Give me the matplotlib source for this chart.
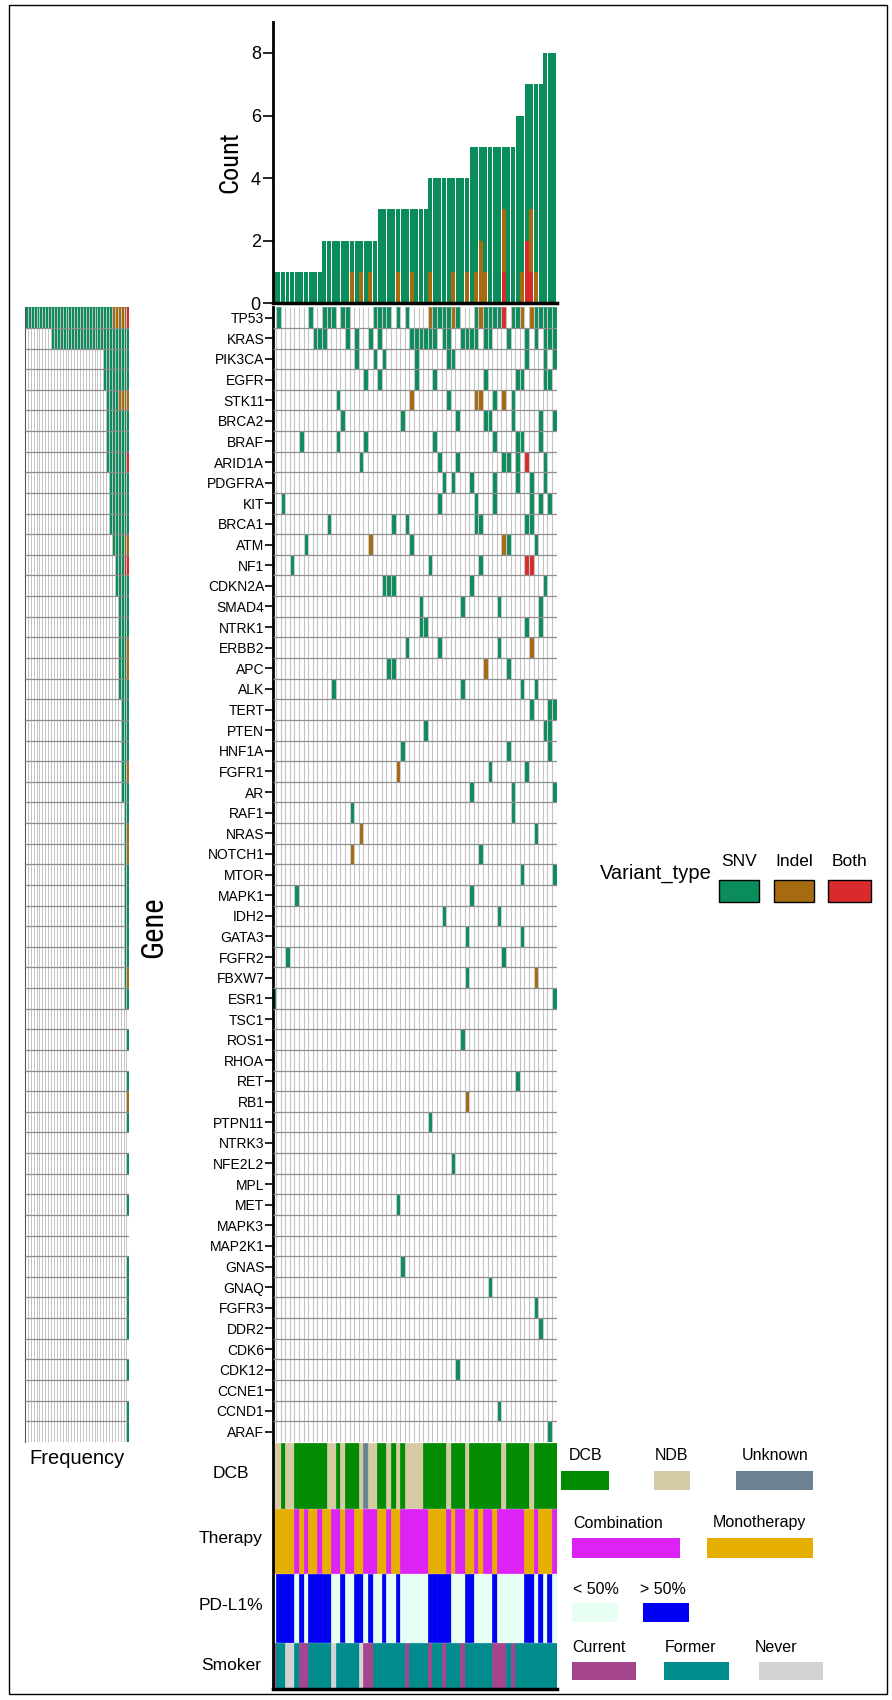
import numpy as np
import matplotlib.pyplot as plt
from matplotlib import font_manager
from matplotlib.patches import Rectangle

# Genes in plotting order (top to bottom)
genes = ["TP53", "KRAS", "PIK3CA", "EGFR", "STK11", "BRCA2", "BRAF", "ARID1A",
         "PDGFRA", "KIT", "BRCA1", "ATM", "NF1", "CDKN2A", "SMAD4", "NTRK1",
         "ERBB2", "APC", "ALK", "TERT", "PTEN", "HNF1A", "FGFR1", "AR", "RAF1",
         "NRAS", "NOTCH1", "MTOR", "MAPK1", "IDH2", "GATA3", "FGFR2", "FBXW7",
         "ESR1", "TSC1", "ROS1", "RHOA", "RET", "RB1", "PTPN11", "NTRK3",
         "NFE2L2", "MPL", "MET", "MAPK3", "MAP2K1", "GNAS", "GNAQ", "FGFR3",
         "DDR2", "CDK6", "CDK12", "CCNE1", "CCND1", "ARAF"]

# Sample indices (columns) carrying each variant type, one list per gene
snv = [
    [1, 8, 11, 12, 13, 15, 16, 22, 23, 24, 25, 27, 29, 35, 36, 37, 38, 40, 44,
     46, 47, 48, 49, 52, 53, 57, 58, 59, 60, 61],
    [9, 10, 11, 16, 18, 21, 23, 30, 31, 32, 33, 34, 35, 37, 38, 41, 42, 43, 44,
     46, 47, 51, 55, 57, 59, 60, 61],
    [18, 22, 24, 31, 38, 39, 55, 59, 61],
    [20, 23, 31, 35, 46, 53, 54, 59, 60],
    [14, 38, 48, 52],
    [15, 28, 40, 46, 47, 52, 58, 61],
    [6, 14, 20, 35, 48, 53, 54, 58],
    [19, 36, 40, 50, 51, 53, 59],
    [37, 39, 43, 48, 53, 56, 59],
    [2, 36, 44, 48, 56, 58, 60],
    [12, 26, 29, 44, 45, 55, 56],
    [7, 30, 51, 57],
    [4, 34, 45],
    [24, 25, 26, 43, 59],
    [32, 41, 49, 58],
    [32, 33, 55, 58],
    [29, 36, 49],
    [25, 26, 51],
    [13, 41, 54, 57],
    [56, 60, 61],
    [33, 59, 60],
    [28, 51, 60],
    [47, 55],
    [43, 52, 61],
    [17, 52],
    [57],
    [45],
    [54, 61],
    [5, 43],
    [37, 49],
    [42, 54],
    [3, 50],
    [42],
    [0, 61],
    [],
    [41],
    [],
    [53],
    [],
    [34],
    [],
    [39],
    [],
    [27],
    [],
    [],
    [28],
    [47],
    [57],
    [58],
    [],
    [40],
    [],
    [49],
    [60],
]
indel = [[34, 39, 45, 54, 56], [], [], [], [30, 44, 45, 50], [], [], [], [], [],
         [], [21, 50], [], [], [], [], [56], [46], [], [], [], [], [27], [], [],
         [19], [17], [], [], [], [], [], [57], [], [], [], [], [], [42], [], [],
         [], [], [], [], [], [], [], [], [], [], [], [], [], []]
both = [[50], [], [], [], [], [], [], [55], [], [], [], [], [55, 56]] + [[]] * 42

# Sample annotations, one character per sample
# DCB: D = DCB, N = NDB, U = Unknown
dcb = "NNDNNDDDDDDDNNDNDDDNUNNDDNDNDNNNNDDDDDNDDDNDDDDDDDNDDDDDNDDDDD"
# Therapy: C = Combination, M = Monotherapy
therapy = "MMMMMCMCMMCMMCCMCCMMCCCMMCMMCCCCCCMMMMCMCCMMCMCCMCCCCCCMMCMMMC"
# PD-L1: L = < 50%, H = > 50%
pdl1 = "LHHHHLHLHHHHHLLHLLHHLHLLHLLHLLLLLLHHHHHLLLHHLLLLHLLLLLLHHLHLHL"
# Smoker: C = Current, F = Former, N = Never
smoker = "CFFNNFCCFFFFFNFFFFFNCCFFFFFFFCFFFFCFFCFFFCFFFFFFCCCFCFFFFFFFFF"

var_colors = {"SNV": "#0b8c5b", "Indel": "#a66a10", "Both": "#d92b2b"}
dcb_colors = {"D": "#008b00", "N": "#d4cba4", "U": "#6b8292"}
therapy_colors = {"C": "#dd22f5", "M": "#e6ae00"}
pdl1_colors = {"L": "#e6fff2", "H": "#0000f5"}
smoker_colors = {"C": "#a4458e", "F": "#008c8c", "N": "#d3d3d3"}

n_samples = len(dcb)
n_genes = len(genes)

names = {f.name for f in font_manager.fontManager.ttflist}
narrow = next((f for f in ["Liberation Sans Narrow", "Roboto Condensed",
                           "Open Sans Condensed"] if f in names), "DejaVu Sans")
plt.rcParams["font.family"] = ["Liberation Sans", "DejaVu Sans"]

W, H = 892, 1700
fig = plt.figure(figsize=(W / 100, H / 100), dpi=100)


def axes_px(x0, y0, x1, y1):
    return fig.add_axes([x0 / W, 1 - y1 / H, (x1 - x0) / W, (y1 - y0) / H])


# per-sample counts for the top bar chart
snv_n = np.zeros(n_samples)
indel_n = np.zeros(n_samples)
both_n = np.zeros(n_samples)
for cols in snv:
    np.add.at(snv_n, cols, 1)
for cols in indel:
    np.add.at(indel_n, cols, 1)
for cols in both:
    np.add.at(both_n, cols, 1)

X0 = 0.41   # first sample column is partly cut by the axis
LEFT, RIGHT = 273.3, 556.7
x = np.arange(n_samples) + 0.5

# ---- top: mutation count per sample
ax_top = axes_px(LEFT, 21.7, RIGHT, 303.3)
ax_top.bar(x, both_n, width=0.86, color=var_colors["Both"])
ax_top.bar(x, indel_n, bottom=both_n, width=0.86, color=var_colors["Indel"])
ax_top.bar(x, snv_n, bottom=both_n + indel_n, width=0.86, color=var_colors["SNV"])
ax_top.set_xlim(X0, n_samples)
ax_top.set_ylim(0, 9)
ax_top.set_xticks([])
ax_top.set_yticks([0, 2, 4, 6, 8])
ax_top.tick_params(axis="y", length=7, width=1.2, labelsize=13, pad=2)
for s in ["top", "right"]:
    ax_top.spines[s].set_visible(False)
ax_top.spines["left"].set_linewidth(2)
ax_top.spines["bottom"].set_linewidth(2.5)
ax_top.set_ylabel("Count", fontsize=19, family=narrow, fontstretch="condensed",
                  labelpad=6)

# ---- main oncoprint
ax = axes_px(LEFT, 307.3, RIGHT, 1441.9)
for i in range(n_genes):
    for cols, key in ((snv[i], "SNV"), (indel[i], "Indel"), (both[i], "Both")):
        for c in cols:
            ax.add_patch(Rectangle((c, i), 1, 1, facecolor=var_colors[key],
                                   edgecolor=var_colors[key], lw=0.4, zorder=2))
ax.vlines(np.arange(1, n_samples + 1), 0, n_genes, color="#c4c4c4", lw=0.8, zorder=3)
ax.hlines(np.arange(1, n_genes), X0, n_samples, color="#8e8e8e", lw=0.9, zorder=3)
ax.set_xlim(X0, n_samples)
ax.set_ylim(n_genes, 0)
ax.set_xticks([])
ax.set_yticks(np.arange(n_genes) + 0.5)
ax.set_yticklabels(genes)
ax.tick_params(axis="y", length=6, width=1.2, labelsize=10, pad=0.5)
for s in ["top", "right", "bottom"]:
    ax.spines[s].set_visible(False)
ax.spines["left"].set_linewidth(2)

# ---- left: gene frequency
tot = np.array([len(a) + len(b) + len(c) for a, b, c in zip(snv, indel, both)])
nb = np.array([len(c) for c in both])
ni = np.array([len(c) for c in indel])
ns = np.array([len(c) for c in snv])
axf = axes_px(25, 307.3, 129.3, 1441.9)
yy = np.arange(n_genes) + 0.5
axf.barh(yy, nb, left=0, height=1, color=var_colors["Both"], zorder=2)
axf.barh(yy, ni, left=nb, height=1, color=var_colors["Indel"], zorder=2)
axf.barh(yy, ns, left=nb + ni, height=1, color=var_colors["SNV"], zorder=2)
axf.vlines(np.arange(1, tot.max()), 0, n_genes, color="#c4c4c4", lw=0.7, zorder=3)
axf.hlines(np.arange(1, n_genes), 0, tot.max(), color="#8e8e8e", lw=0.9, zorder=3)
axf.set_xlim(tot.max(), 0)
axf.set_ylim(n_genes, 0)
axf.set_xticks([])
axf.set_yticks([])
for s in ["top", "right", "bottom"]:
    axf.spines[s].set_visible(False)
axf.spines["left"].set_color("#555555")

# ---- bottom: sample annotation tracks (y in pixels)
axa = axes_px(LEFT, 1443.3, RIGHT, 1689.3)
tracks = [(dcb, dcb_colors, 0, 65), (therapy, therapy_colors, 65.7, 64.3),
          (pdl1, pdl1_colors, 130.7, 68), (smoker, smoker_colors, 200, 45)]
for codes, cmap, y0, h in tracks:
    cols = [cmap[c] for c in codes]
    axa.bar(x, h, bottom=y0, width=1, color=cols, edgecolor=cols, lw=0.5)
axa.set_xlim(X0, n_samples)
axa.set_ylim(246, 0)
axa.set_xticks([])
axa.set_yticks([])
for s in ["top", "right"]:
    axa.spines[s].set_visible(False)
axa.spines["left"].set_linewidth(2)
axa.spines["bottom"].set_linewidth(2.5)

# ---- overlay in pixel coordinates for labels and legends
ov = fig.add_axes([0, 0, 1, 1], zorder=-1)
ov.set_xlim(0, W)
ov.set_ylim(H, 0)
ov.axis("off")
ov.add_patch(Rectangle((9, 5), 878, 1689, fill=False, edgecolor="black", lw=1))

ov.text(154, 927, "Gene", rotation=90, ha="center", va="center",
        fontsize=22, family=narrow, fontstretch="condensed")
ov.text(77, 1459, "Frequency", ha="center", va="center", fontsize=14.5)
for label, yc in [("DCB", 1474), ("Therapy", 1539), ("PD-L1%", 1606), ("Smoker", 1666)]:
    ov.text(231, yc, label, ha="center", va="center", fontsize=12.5)

# variant legend
ov.text(600, 873, "Variant_type", ha="left", va="center", fontsize=14.5)
for key, x0, x1 in [("SNV", 719, 759), ("Indel", 774, 814), ("Both", 828, 871)]:
    ov.add_patch(Rectangle((x0, 880), x1 - x0, 22, facecolor=var_colors[key],
                           edgecolor="black", lw=1))
    ov.text((x0 + x1) / 2, 861, key, ha="center", va="center", fontsize=12.5)

# annotation legends: (text y, swatch y, swatch height, entries)
legend_rows = [
    (1456, 1471, 19, [("DCB", dcb_colors["D"], 561, 609, 586),
                      ("NDB", dcb_colors["N"], 654, 690, 672),
                      ("Unknown", dcb_colors["U"], 736, 813, 775)]),
    (1523, 1538, 20, [("Combination", therapy_colors["C"], 572, 680, 618),
                      ("Monotherapy", therapy_colors["M"], 707, 813, 759)]),
    (1589, 1603, 19, [("< 50%", pdl1_colors["L"], 572, 618, 596),
                      ("> 50%", pdl1_colors["H"], 643, 689, 663)]),
    (1647, 1662, 18, [("Current", smoker_colors["C"], 572, 636, 599),
                      ("Former", smoker_colors["F"], 664, 729, 691),
                      ("Never", smoker_colors["N"], 759, 823, 776)]),
]
for ty, sy, sh, items in legend_rows:
    for label, col, x0, x1, xc in items:
        ov.add_patch(Rectangle((x0, sy), x1 - x0, sh, facecolor=col, lw=0))
        ov.text(xc, ty, label, ha="center", va="center", fontsize=11.5)

fig.savefig("out.png", dpi=100)
